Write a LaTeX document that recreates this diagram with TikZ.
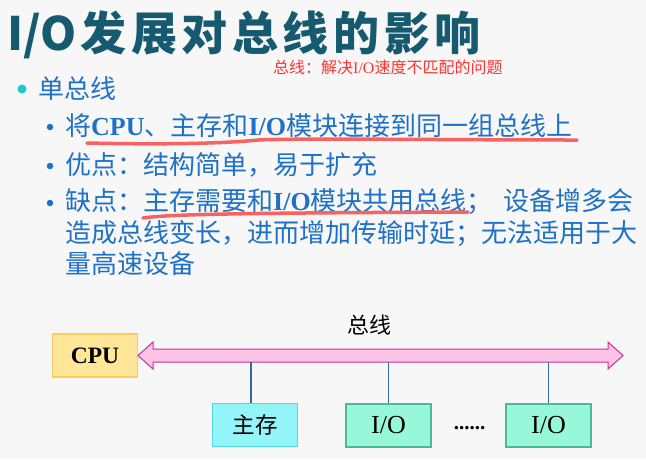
\documentclass[tikz,border=0pt]{standalone}
\usepackage{fontspec}
\setmainfont{Noto Sans CJK SC}
\newfontfamily\tms{Liberation Serif}
\newfontfamily\titlefont{Noto Sans CJK SC}
\newfontfamily\titlecjk[LetterSpace=10]{Noto Sans CJK SC}

\newlength{\du}
\setlength{\du}{1pt}

\tikzset{
  txt/.style={inner sep=0pt, anchor=base west},
  itemtext/.style={txt, text=itemblue, font=\fontsize{26}{31}\selectfont},
  dotA/.style={circle, inner sep=0pt, minimum size=9\du, fill=bulletcyan},
  dotB/.style={circle, inner sep=0pt, minimum size=6.5\du, fill=itemblue},
  unitbox/.style={draw, line width=1.2\du, minimum width=85\du, minimum height=43\du, inner sep=0pt},
  redline/.style={draw=underred, line width=3.5\du, line cap=round},
  busarrow/.style={fill=busfill, draw=busline, line width=1\du, line join=miter},
  link/.style={draw=linkblue, line width=1.4\du}
}

\begin{document}
\begin{tikzpicture}
\pgftransformxscale{1.000000}
\pgftransformyscale{-1.000000}
\definecolor{bgcol}{rgb}{0.970000, 0.970000, 0.970000}
\definecolor{titleteal}{rgb}{0.086000, 0.353000, 0.439000}
\definecolor{notered}{rgb}{1.000000, 0.200000, 0.200000}
\definecolor{itemblue}{rgb}{0.122000, 0.443000, 0.776000}
\definecolor{bulletcyan}{rgb}{0.100000, 0.790000, 0.840000}
\definecolor{underred}{rgb}{0.980000, 0.380000, 0.380000}
\definecolor{cpufill}{rgb}{1.000000, 0.902000, 0.600000}
\definecolor{cpuline}{rgb}{0.990000, 0.800000, 0.350000}
\definecolor{memfill}{rgb}{0.580000, 0.960000, 0.976000}
\definecolor{memline}{rgb}{0.300000, 0.850000, 0.880000}
\definecolor{iofill}{rgb}{0.590000, 0.970000, 0.850000}
\definecolor{ioline}{rgb}{0.300000, 0.720000, 0.580000}
\definecolor{busfill}{rgb}{1.000000, 0.765000, 0.910000}
\definecolor{busline}{rgb}{0.800000, 0.180000, 0.590000}
\definecolor{linkblue}{rgb}{0.180000, 0.420000, 0.660000}
\fill[bgcol] (0\du,0\du) rectangle (646\du,459\du);
\useasboundingbox (0\du,0\du) rectangle (646\du,459\du);
% title and note
\node[txt, text=titleteal, font=\bfseries\fontsize{46}{50}\selectfont] (title) at (7\du,50\du){{\titlefont\bfseries I/O}\hspace{4pt}{\titlecjk\bfseries 发展对总线的影响}};
\node[txt, text=notered, font=\fontsize{16}{19}\selectfont] (note) at (273\du,73\du){总线：解决{\tms I/O}速度不匹配的问题};
% bullets
\node[dotA] (b0) at (22\du,89\du){};
\node[txt, text=itemblue, font=\fontsize{26}{31}\selectfont] (single) at (38\du,98\du){单总线};
\node[dotB] (b1) at (50\du,127\du){};
\node[itemtext] (connect) at (65\du,135\du){将{\tms\bfseries CPU}、主存和{\tms\bfseries I/O}模块连接到同一组总线上};
\node[dotB] (b2) at (50\du,166\du){};
\node[itemtext] (pro) at (65\du,174\du){优点：结构简单，易于扩充};
\node[dotB] (b3) at (50\du,203\du){};
\node[itemtext] (conA) at (65\du,210\du){缺点：主存需要和{\tms\bfseries I/O}模块共用总线；\hspace{11pt}设备增多会};
\node[itemtext] (conB) at (65\du,242\du){造成总线变长，进而增加传输时延；无法适用于大};
\node[itemtext] (conC) at (65\du,273\du){量高速设备};
% underlines
\draw[redline] (87\du,143\du) .. controls (170\du,145\du) and (230\du,143\du) .. (258\du,140\du) .. controls (300\du,138\du) and (450\du,140\du) .. (577\du,140\du);
\draw[redline] (143\du,218\du) .. controls (170\du,214\du) and (250\du,213\du) .. (468\du,212\du);
% bus diagram
\node[unitbox, fill=cpufill, draw=cpuline, font=\tms\bfseries\fontsize{23.5}{28}\selectfont] (cpu) at (95\du,355.5\du){CPU};
\node[unitbox, fill=memfill, draw=memline, font=\fontsize{22.5}{27}\selectfont] (mem) at (255\du,425\du){主存};
\node[unitbox, fill=iofill, draw=ioline, font=\tms\fontsize{26}{30}\selectfont] (ioa) at (388.5\du,425.5\du){I/O};
\node[unitbox, fill=iofill, draw=ioline, font=\tms\fontsize{26}{30}\selectfont] (iob) at (548.5\du,425.5\du){I/O};
\node[anchor=base, inner sep=0pt, font=\tms\bfseries\fontsize{21}{24}\selectfont] (dots) at (469.5\du,429\du){......};
\node[font=\fontsize{22}{26}\selectfont] (buslabel) at (369\du,325\du){总线};
\coordinate (busl) at (138\du,355.5\du);
\coordinate (busr) at (623\du,355.5\du);
\coordinate (busb) at (0\du,362\du);
\draw[busarrow] (busl) -- ++(15\du,13.5\du) -- ++(0\du,-7\du) -- ++(455\du,0\du) -- ++(0\du,7\du) -- (busr) -- ++(-15\du,-13.5\du) -- ++(0\du,7\du) -- ++(-455\du,0\du) -- ++(0\du,-7\du) -- cycle;
\draw[link] ([xshift=-4\du]mem.north) -- ([xshift=-4\du]mem.north |- busb);
\draw[link] (ioa.north) -- (ioa.north |- busb);
\draw[link] (iob.north) -- (iob.north |- busb);
\end{tikzpicture}
\end{document}
